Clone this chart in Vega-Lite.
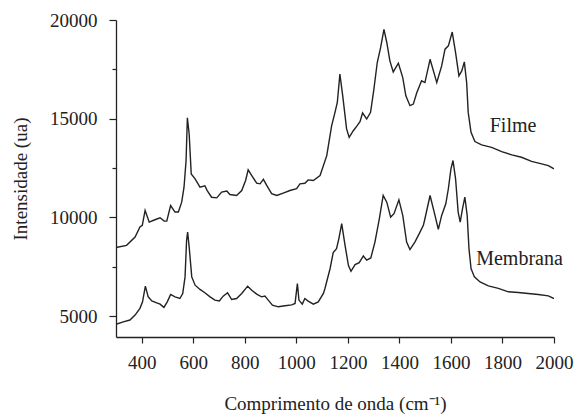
{
  "$schema": "https://vega.github.io/schema/vega-lite/v6.json",
  "autosize": {"type": "none"},
  "width": 438,
  "height": 317,
  "padding": {"left": 116, "top": 20, "right": 22, "bottom": 80},
  "background": "white",
  "config": {
    "view": {"stroke": null},
    "font": "Liberation Serif",
    "axis": {"labelFont": "Liberation Serif", "titleFont": "Liberation Serif", "labelColor": "#222", "titleColor": "#222", "domainColor": "#222", "tickColor": "#222", "domainWidth": 1.3, "tickWidth": 1.2, "grid": false, "labelFontSize": 19, "titleFontSize": 19, "titleFontWeight": "normal", "labelOverlap": false, "labelFlush": false}
  },
  "datasets": {
    "spectra": [
      {"s":"Filme","x":300,"y":8470},{"s":"Filme","x":341,"y":8585},{"s":"Filme","x":374,"y":9005},{"s":"Filme","x":393,"y":9510},{"s":"Filme","x":402,"y":9600},{"s":"Filme","x":413,"y":10350},{"s":"Filme","x":429,"y":9760},{"s":"Filme","x":451,"y":9880},{"s":"Filme","x":471,"y":9980},{"s":"Filme","x":487,"y":9810},{"s":"Filme","x":497,"y":9810},{"s":"Filme","x":512,"y":10600},{"s":"Filme","x":529,"y":10270},{"s":"Filme","x":542,"y":10270},{"s":"Filme","x":555,"y":10770},{"s":"Filme","x":564,"y":11530},{"s":"Filme","x":572,"y":12880},{"s":"Filme","x":577,"y":15050},{"s":"Filme","x":584,"y":14225},{"s":"Filme","x":592,"y":12200},{"s":"Filme","x":607,"y":11950},{"s":"Filme","x":626,"y":11530},{"s":"Filme","x":645,"y":11600},{"s":"Filme","x":654,"y":11360},{"s":"Filme","x":671,"y":11020},{"s":"Filme","x":691,"y":10990},{"s":"Filme","x":710,"y":11280},{"s":"Filme","x":730,"y":11330},{"s":"Filme","x":742,"y":11160},{"s":"Filme","x":768,"y":11110},{"s":"Filme","x":788,"y":11360},{"s":"Filme","x":803,"y":11870},{"s":"Filme","x":813,"y":12410},{"s":"Filme","x":827,"y":12120},{"s":"Filme","x":846,"y":11730},{"s":"Filme","x":859,"y":11700},{"s":"Filme","x":872,"y":11930},{"s":"Filme","x":885,"y":11620},{"s":"Filme","x":904,"y":11200},{"s":"Filme","x":924,"y":11110},{"s":"Filme","x":949,"y":11230},{"s":"Filme","x":975,"y":11360},{"s":"Filme","x":1001,"y":11450},{"s":"Filme","x":1014,"y":11700},{"s":"Filme","x":1033,"y":11730},{"s":"Filme","x":1046,"y":11900},{"s":"Filme","x":1066,"y":11870},{"s":"Filme","x":1092,"y":12120},{"s":"Filme","x":1118,"y":13130},{"s":"Filme","x":1137,"y":14645},{"s":"Filme","x":1150,"y":15320},{"s":"Filme","x":1159,"y":15820},{"s":"Filme","x":1169,"y":17260},{"s":"Filme","x":1180,"y":16160},{"s":"Filme","x":1195,"y":14480},{"s":"Filme","x":1205,"y":14055},{"s":"Filme","x":1221,"y":14390},{"s":"Filme","x":1236,"y":14645},{"s":"Filme","x":1247,"y":14850},{"s":"Filme","x":1257,"y":15290},{"s":"Filme","x":1273,"y":14985},{"s":"Filme","x":1288,"y":15320},{"s":"Filme","x":1301,"y":16500},{"s":"Filme","x":1314,"y":17845},{"s":"Filme","x":1327,"y":18600},{"s":"Filme","x":1340,"y":19530},{"s":"Filme","x":1351,"y":18860},{"s":"Filme","x":1363,"y":17930},{"s":"Filme","x":1376,"y":17370},{"s":"Filme","x":1396,"y":17810},{"s":"Filme","x":1413,"y":17085},{"s":"Filme","x":1425,"y":16160},{"s":"Filme","x":1441,"y":15660},{"s":"Filme","x":1454,"y":15740},{"s":"Filme","x":1467,"y":16300},{"s":"Filme","x":1486,"y":16920},{"s":"Filme","x":1499,"y":16830},{"s":"Filme","x":1519,"y":18010},{"s":"Filme","x":1545,"y":16830},{"s":"Filme","x":1564,"y":17675},{"s":"Filme","x":1577,"y":18520},{"s":"Filme","x":1590,"y":18690},{"s":"Filme","x":1605,"y":19390},{"s":"Filme","x":1618,"y":18350},{"s":"Filme","x":1631,"y":17170},{"s":"Filme","x":1642,"y":17420},{"s":"Filme","x":1652,"y":17880},{"s":"Filme","x":1661,"y":16830},{"s":"Filme","x":1667,"y":15320},{"s":"Filme","x":1678,"y":14310},{"s":"Filme","x":1693,"y":13840},{"s":"Filme","x":1719,"y":13670},{"s":"Filme","x":1758,"y":13550},{"s":"Filme","x":1797,"y":13330},{"s":"Filme","x":1836,"y":13165},{"s":"Filme","x":1874,"y":13045},{"s":"Filme","x":1913,"y":12840},{"s":"Filme","x":1952,"y":12710},{"s":"Filme","x":1978,"y":12625},{"s":"Filme","x":2000,"y":12460},
      {"s":"Membrana","x":300,"y":4580},{"s":"Membrana","x":328,"y":4710},{"s":"Membrana","x":354,"y":4800},{"s":"Membrana","x":374,"y":5050},{"s":"Membrana","x":393,"y":5390},{"s":"Membrana","x":403,"y":5720},{"s":"Membrana","x":414,"y":6515},{"s":"Membrana","x":425,"y":5975},{"s":"Membrana","x":439,"y":5770},{"s":"Membrana","x":458,"y":5670},{"s":"Membrana","x":471,"y":5605},{"s":"Membrana","x":486,"y":5440},{"s":"Membrana","x":499,"y":5720},{"s":"Membrana","x":512,"y":6095},{"s":"Membrana","x":529,"y":5975},{"s":"Membrana","x":548,"y":5890},{"s":"Membrana","x":559,"y":6145},{"s":"Membrana","x":568,"y":6985},{"s":"Membrana","x":574,"y":8840},{"s":"Membrana","x":578,"y":9260},{"s":"Membrana","x":584,"y":8500},{"s":"Membrana","x":594,"y":6985},{"s":"Membrana","x":607,"y":6565},{"s":"Membrana","x":626,"y":6350},{"s":"Membrana","x":645,"y":6180},{"s":"Membrana","x":665,"y":5975},{"s":"Membrana","x":684,"y":5810},{"s":"Membrana","x":701,"y":5770},{"s":"Membrana","x":716,"y":6010},{"s":"Membrana","x":733,"y":6180},{"s":"Membrana","x":749,"y":5840},{"s":"Membrana","x":768,"y":5890},{"s":"Membrana","x":788,"y":6145},{"s":"Membrana","x":811,"y":6515},{"s":"Membrana","x":827,"y":6310},{"s":"Membrana","x":846,"y":6110},{"s":"Membrana","x":865,"y":5975},{"s":"Membrana","x":878,"y":6010},{"s":"Membrana","x":891,"y":5810},{"s":"Membrana","x":907,"y":5555},{"s":"Membrana","x":930,"y":5470},{"s":"Membrana","x":956,"y":5520},{"s":"Membrana","x":982,"y":5570},{"s":"Membrana","x":995,"y":5640},{"s":"Membrana","x":1004,"y":6650},{"s":"Membrana","x":1010,"y":5810},{"s":"Membrana","x":1023,"y":5605},{"s":"Membrana","x":1033,"y":5890},{"s":"Membrana","x":1046,"y":5760},{"s":"Membrana","x":1066,"y":5605},{"s":"Membrana","x":1085,"y":5720},{"s":"Membrana","x":1105,"y":6145},{"s":"Membrana","x":1111,"y":6400},{"s":"Membrana","x":1131,"y":7410},{"s":"Membrana","x":1143,"y":8215},{"s":"Membrana","x":1156,"y":8420},{"s":"Membrana","x":1165,"y":8925},{"s":"Membrana","x":1176,"y":9680},{"s":"Membrana","x":1189,"y":8585},{"s":"Membrana","x":1202,"y":7575},{"s":"Membrana","x":1212,"y":7270},{"s":"Membrana","x":1228,"y":7610},{"s":"Membrana","x":1244,"y":7710},{"s":"Membrana","x":1260,"y":8045},{"s":"Membrana","x":1273,"y":7830},{"s":"Membrana","x":1289,"y":7945},{"s":"Membrana","x":1305,"y":8750},{"s":"Membrana","x":1322,"y":9930},{"s":"Membrana","x":1337,"y":11110},{"s":"Membrana","x":1351,"y":10770},{"s":"Membrana","x":1366,"y":10015},{"s":"Membrana","x":1379,"y":10185},{"s":"Membrana","x":1398,"y":10890},{"s":"Membrana","x":1413,"y":10100},{"s":"Membrana","x":1428,"y":8750},{"s":"Membrana","x":1441,"y":8370},{"s":"Membrana","x":1460,"y":8750},{"s":"Membrana","x":1477,"y":9175},{"s":"Membrana","x":1493,"y":9595},{"s":"Membrana","x":1499,"y":9930},{"s":"Membrana","x":1519,"y":11110},{"s":"Membrana","x":1535,"y":10270},{"s":"Membrana","x":1551,"y":9395},{"s":"Membrana","x":1564,"y":10100},{"s":"Membrana","x":1580,"y":10690},{"s":"Membrana","x":1590,"y":11450},{"s":"Membrana","x":1600,"y":12460},{"s":"Membrana","x":1608,"y":12880},{"s":"Membrana","x":1618,"y":11955},{"s":"Membrana","x":1628,"y":10270},{"s":"Membrana","x":1636,"y":9760},{"s":"Membrana","x":1645,"y":10440},{"s":"Membrana","x":1654,"y":11025},{"s":"Membrana","x":1663,"y":10100},{"s":"Membrana","x":1670,"y":8420},{"s":"Membrana","x":1678,"y":7410},{"s":"Membrana","x":1691,"y":6985},{"s":"Membrana","x":1713,"y":6730},{"s":"Membrana","x":1745,"y":6530},{"s":"Membrana","x":1784,"y":6400},{"s":"Membrana","x":1823,"y":6230},{"s":"Membrana","x":1861,"y":6195},{"s":"Membrana","x":1900,"y":6145},{"s":"Membrana","x":1939,"y":6095},{"s":"Membrana","x":1978,"y":6025},{"s":"Membrana","x":2000,"y":5890}
    ],
    "labels": [
      {"label":"Filme","x":1841,"y":14340},
      {"label":"Membrana","x":1866,"y":7575}
    ]
  },
  "layer": [
    {
      "data": {"name": "spectra"},
      "mark": {"type": "line", "color": "#222", "strokeWidth": 1.4, "clip": true},
      "encoding": {
        "x": {"field": "x", "type": "quantitative", "scale": {"domain": [300, 2000], "nice": false, "zero": false},
          "axis": {"title": "Comprimento de onda (cm⁻¹)", "values": [400,500,600,700,800,900,1000,1100,1200,1300,1400,1500,1600,1700,1800,1900,2000],
            "format": "d", "labelExpr": "datum.value % 200 === 0 ? datum.label : ''", "labelPadding": 10,
            "tickSize": 6, "titlePadding": 22}},
        "y": {"field": "y", "type": "quantitative", "scale": {"domain": [3940, 20000], "nice": false, "zero": false},
          "axis": {"title": "Intensidade (ua)", "values": [5000,7500,10000,12500,15000,17500,20000],
            "labelExpr": "datum.value % 5000 === 0 ? datum.label : ''", "format": "d", "labelPadding": 12,
            "tickSize": {"condition": {"test": "datum.value % 5000 === 0", "value": 7}, "value": 4}, "titlePadding": 19}},
        "detail": {"field": "s"}
      }
    },
    {
      "data": {"name": "labels"},
      "mark": {"type": "text", "font": "Liberation Serif", "fontSize": 20, "color": "#222", "align": "center", "baseline": "alphabetic"},
      "encoding": {
        "x": {"field": "x", "type": "quantitative"},
        "y": {"field": "y", "type": "quantitative"},
        "text": {"field": "label"}
      }
    }
  ]
}
